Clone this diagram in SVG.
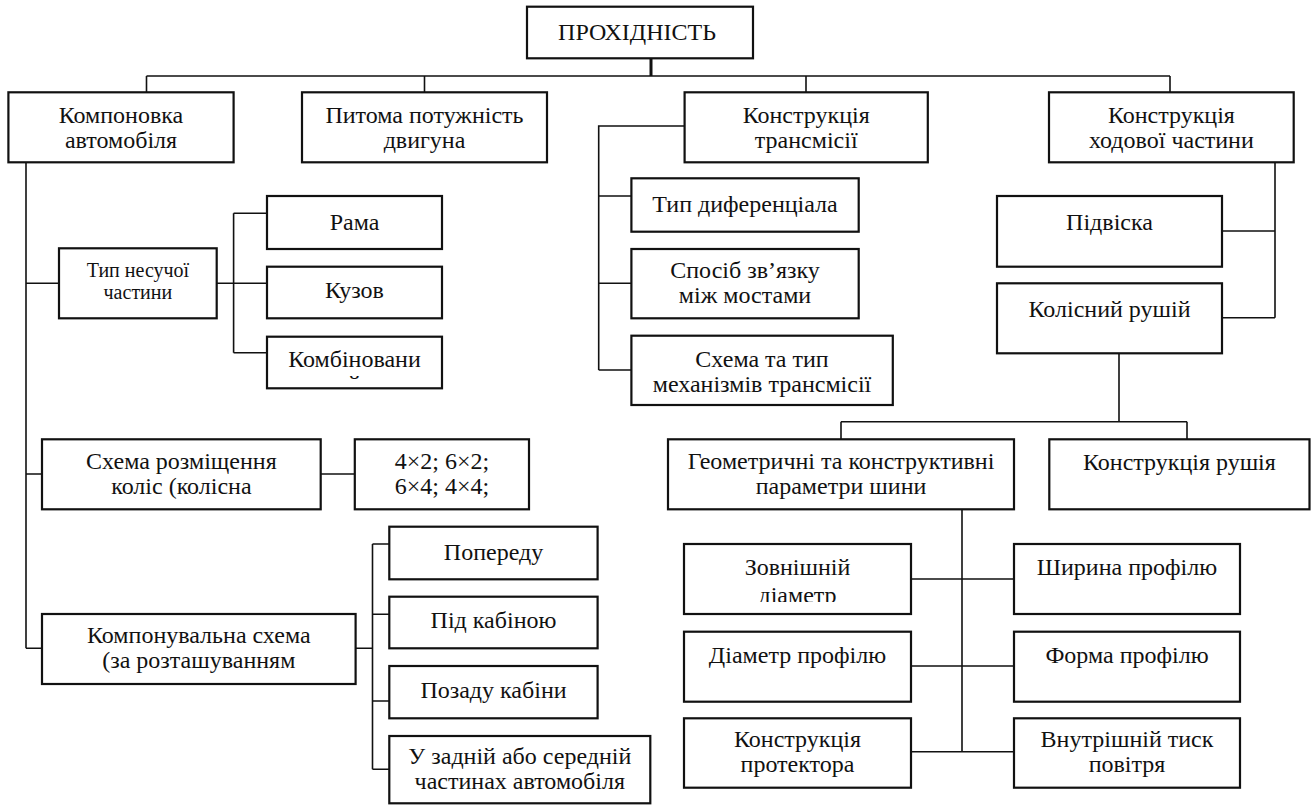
<svg xmlns="http://www.w3.org/2000/svg" width="1312" height="805" viewBox="0 0 1312 805">
<style>
.b{fill:#fff;stroke:#111;stroke-width:2.2}
.c{fill:none;stroke:#111;stroke-width:1.6}
</style>
<defs>
<clipPath id="clipK"><rect x="268" y="337" width="173" height="43.5"/></clipPath>
<clipPath id="clipZ"><rect x="685" y="545" width="225" height="57"/></clipPath>
</defs>
<rect width="1312" height="805" fill="#fff"/>
<g id="connectors">
<path class="c" d="M651 58.3V76" stroke-width="3" style="stroke-width:3"/>
<path class="c" d="M146.5 76H1170M146.5 76V92.3M424.5 76V92.3M806 76V92.3M1170 76V92.3"/>
<path class="c" d="M26 162.3V648.3M26 283.3H59M26 474H42M26 648.3H42"/>
<path class="c" d="M216.7 283.3H233.6M233.6 213.3V352.7M233.6 213.3H267M233.6 283.3H267M233.6 352.7H267"/>
<path class="c" d="M320.7 474H354.8"/>
<path class="c" d="M355.6 648.3H372.5M372.5 544V769.3M372.5 544H389.3M372.5 614.3H389.3M372.5 701H389.3M372.5 769.3H389.3"/>
<path class="c" d="M684.6 126H598.7V370M598.7 196H631.4M598.7 283.3H631.4M598.7 370H631.4"/>
<path class="c" d="M1275 162.3V317.7M1222 231H1275M1222 317.7H1275"/>
<path class="c" d="M1119 353.3V421.7M841 421.7H1187M841 421.7V439.3M1187 421.7V439.3"/>
<path class="c" d="M962 509.3V751.7M911 579H1014M911 666H1014M911 751.7H1014"/>
</g>
<g font-family="Liberation Serif, serif" font-size="24" fill="#111" text-anchor="middle">
<g id="n-prokhidnist"><rect class="b" x="527" y="6.7" width="226" height="51.6"/><text x="637" y="40">ПРОХІДНІСТЬ</text></g>
<g id="n-komponovka"><rect class="b" x="8.4" y="92.3" width="225.2" height="70"/><text x="121" y="123">Компоновка</text><text x="121" y="148">автомобіля</text></g>
<g id="n-pytoma"><rect class="b" x="302" y="92.3" width="245" height="70"/><text x="424.5" y="123">Питома потужність</text><text x="424.5" y="148">двигуна</text></g>
<g id="n-transmisii"><rect class="b" x="684.6" y="92.3" width="243.2" height="70"/><text x="806.2" y="123">Конструкція</text><text x="806.2" y="148">трансмісії</text></g>
<g id="n-khodovoi"><rect class="b" x="1049" y="92.3" width="244.7" height="70"/><text x="1171.4" y="123">Конструкція</text><text x="1171.4" y="148">ходової частини</text></g>
<g id="n-typ-nesuchoi"><rect class="b" x="59" y="248.3" width="157.7" height="70"/><text font-size="20" x="137.9" y="277">Тип несучої</text><text font-size="20" x="137.9" y="299">частини</text></g>
<g id="n-rama"><rect class="b" x="267" y="196" width="175" height="53"/><text x="354.5" y="230">Рама</text></g>
<g id="n-kuzov"><rect class="b" x="267" y="266.7" width="175" height="51.6"/><text x="354.5" y="298.3">Кузов</text></g>
<g id="n-kombinovanyi"><rect class="b" x="267" y="336.7" width="175" height="51.6"/><g clip-path="url(#clipK)"><text x="354.5" y="366.7">Комбіновани</text><text x="354.5" y="391.5">й</text></g></g>
<g id="n-typ-dyf"><rect class="b" x="631.4" y="178.3" width="227.3" height="53.4"/><text x="745" y="211.7">Тип диференціала</text></g>
<g id="n-sposib"><rect class="b" x="631.4" y="249" width="227.3" height="69.3"/><text x="745" y="278.3">Спосіб зв’язку</text><text x="745" y="303.3">між мостами</text></g>
<g id="n-skhema-typ"><rect class="b" x="631.4" y="335.7" width="261.4" height="69.3"/><text x="762" y="366.7">Схема та тип</text><text x="762" y="391.7">механізмів трансмісії</text></g>
<g id="n-pidviska"><rect class="b" x="997" y="196" width="225" height="70.7"/><text x="1109.5" y="230">Підвіска</text></g>
<g id="n-kolisnyi"><rect class="b" x="997" y="283.3" width="225" height="70"/><text x="1109.5" y="316.7">Колісний рушій</text></g>
<g id="n-geometrychni"><rect class="b" x="668" y="439.3" width="346" height="70"/><text x="841" y="469">Геометричні та конструктивні</text><text x="841" y="494">параметри шини</text></g>
<g id="n-rushiia"><rect class="b" x="1049.3" y="439.3" width="260.2" height="70"/><text x="1179.4" y="470">Конструкція рушія</text></g>
<g id="n-zovnishnii"><rect class="b" x="684" y="544" width="227" height="70"/><g clip-path="url(#clipZ)"><text x="797.5" y="575">Зовнішній</text><text x="797.5" y="603">діаметр</text></g></g>
<g id="n-shyryna"><rect class="b" x="1014" y="544" width="226" height="70"/><text x="1127" y="575">Ширина профілю</text></g>
<g id="n-diametr"><rect class="b" x="684" y="631.7" width="227" height="70"/><text x="797.5" y="663.3">Діаметр профілю</text></g>
<g id="n-forma"><rect class="b" x="1014" y="631.7" width="226" height="70"/><text x="1127" y="663.3">Форма профілю</text></g>
<g id="n-protektor"><rect class="b" x="684" y="718.3" width="227" height="69.4"/><text x="797.5" y="746.5">Конструкція</text><text x="797.5" y="772">протектора</text></g>
<g id="n-tysk"><rect class="b" x="1014" y="718.3" width="226" height="69.4"/><text x="1127" y="746.5">Внутрішній тиск</text><text x="1127" y="772">повітря</text></g>
<g id="n-skhema-rozm"><rect class="b" x="42" y="439.3" width="278.7" height="70"/><text x="181.4" y="469">Схема розміщення</text><text x="181.4" y="494">коліс (колісна</text></g>
<g id="n-formula"><rect class="b" x="354.8" y="439.3" width="174.2" height="70"/><text x="441.9" y="469">4×2; 6×2;</text><text x="441.9" y="494">6×4; 4×4;</text></g>
<g id="n-komponuvalna"><rect class="b" x="42" y="614" width="313.6" height="70"/><text x="198.8" y="642.5">Компонувальна схема</text><text x="198.8" y="667.5">(за розташуванням</text></g>
<g id="n-poperedu"><rect class="b" x="389.3" y="526.7" width="208.3" height="52.6"/><text x="493.5" y="560">Попереду</text></g>
<g id="n-pid-kabinoiu"><rect class="b" x="389.3" y="596.7" width="208.3" height="51.6"/><text x="493.5" y="628.3">Під кабіною</text></g>
<g id="n-pozadu"><rect class="b" x="389.3" y="666" width="208.3" height="52.3"/><text x="493.5" y="698.3">Позаду кабіни</text></g>
<g id="n-u-zadnii"><rect class="b" x="389.3" y="736" width="261" height="67.3"/><text x="519.8" y="763.5">У задній або середній</text><text x="519.8" y="789">частинах автомобіля</text></g>
</g>
</svg>
